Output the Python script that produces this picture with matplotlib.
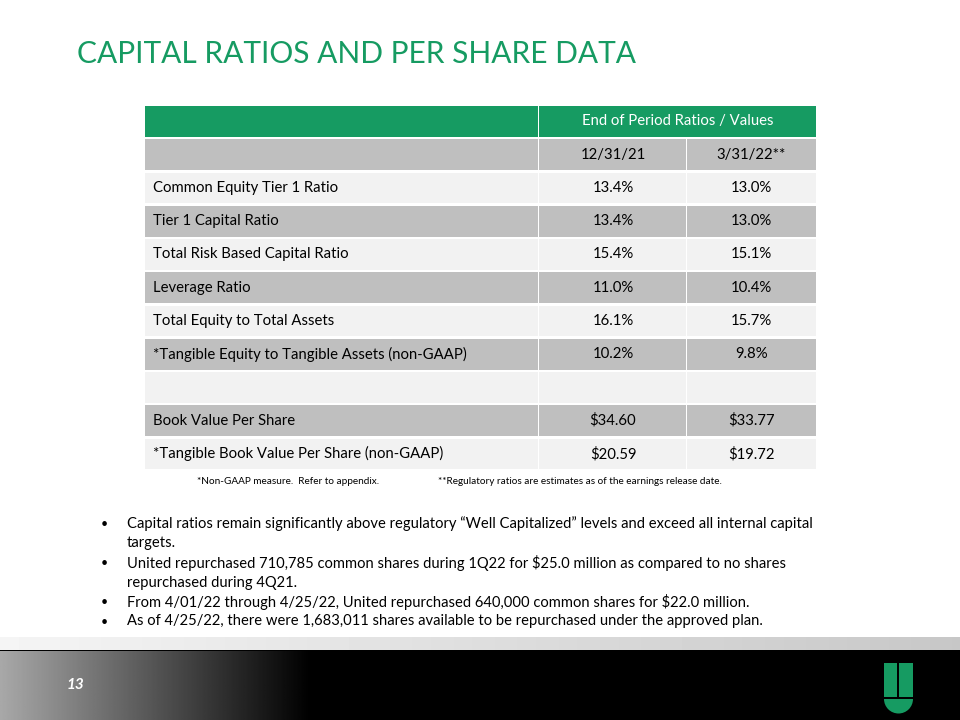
import matplotlib
matplotlib.use("Agg")
import matplotlib.pyplot as plt
from matplotlib.patches import Rectangle, Wedge
import numpy as np

plt.rcParams['font.family'] = ['Lato', 'DejaVu Sans']

title = "CAPITAL RATIOS AND PER SHARE DATA"
header = "End of Period Ratios / Values"
periods = ["12/31/21", "3/31/22**"]
row_labels = [
    "Common Equity Tier 1 Ratio",
    "Tier 1 Capital Ratio",
    "Total Risk Based Capital Ratio",
    "Leverage Ratio",
    "Total Equity to Total Assets",
    "*Tangible Equity to Tangible Assets (non-GAAP)",
    "",
    "Book Value Per Share",
    "*Tangible Book Value Per Share (non-GAAP)",
]
col_1221 = ["13.4%", "13.4%", "15.4%", "11.0%", "16.1%", "10.2%", "", "$34.60", "$20.59"]
col_0322 = ["13.0%", "13.0%", "15.1%", "10.4%", "15.7%", "9.8%", "", "$33.77", "$19.72"]
footnotes = ["*Non-GAAP measure.  Refer to appendix.",
             "**Regulatory ratios are estimates as of the earnings release date."]
bullets = [
    ["Capital ratios remain significantly above regulatory \u201cWell Capitalized\u201d levels and exceed all internal capital",
     "targets."],
    ["United repurchased 710,785 common shares during 1Q22 for $25.0 million as compared to no shares",
     "repurchased during 4Q21."],
    ["From 4/01/22 through 4/25/22, United repurchased 640,000 common shares for $22.0 million."],
    ["As of 4/25/22, there were 1,683,011 shares available to be repurchased under the approved plan."],
]
page = "13"

GREEN = "#169B62"
GRAY = "#BFBFBF"
LIGHT = "#F2F2F2"

fig = plt.figure(figsize=(9.6, 7.2), dpi=100)
ax = fig.add_axes([0, 0, 1, 1])
ax.set_xlim(0, 960)
ax.set_ylim(720, 0)
ax.axis('off')

# title
ax.text(77, 54, title, color=GREEN, fontsize=21.5, va='center', ha='left')

# table geometry
x0, x1, x2, x3 = 145, 539, 687, 816
top, rh, gap = 106, 33.25, 2.5
fs = 10.7

def cell(xa, xb, row, color):
    y = top + row * rh
    ax.add_patch(Rectangle((xa, y), xb - xa, rh - gap, facecolor=color, edgecolor='none'))
    return y + (rh - gap) / 2

# header row
yc = cell(x0, x1 - 1.5, 0, GREEN)
cell(x1, x3, 0, GREEN)
ax.text((x1 + x3) / 2, yc, header, color='white', fontsize=fs, ha='center', va='center')

# period row
yc = cell(x0, x1 - 1.5, 1, GRAY)
cell(x1, x2 - 1.5, 1, GRAY)
cell(x2, x3, 1, GRAY)
ax.text((x1 + x2) / 2, yc, periods[0], fontsize=fs, ha='center', va='center')
ax.text((x2 + x3) / 2, yc, periods[1], fontsize=fs, ha='center', va='center')

for i, lab in enumerate(row_labels):
    color = LIGHT if i % 2 == 0 else GRAY
    r = i + 2
    yc = cell(x0, x1 - 1.5, r, color)
    cell(x1, x2 - 1.5, r, color)
    cell(x2, x3, r, color)
    ax.text(x0 + 8, yc, lab, fontsize=fs, ha='left', va='center')
    ax.text((x1 + x2) / 2, yc, col_1221[i], fontsize=fs, ha='center', va='center')
    ax.text((x2 + x3) / 2, yc, col_0322[i], fontsize=fs, ha='center', va='center')

# footnotes
ax.text(197, 482, footnotes[0], fontsize=7.2, ha='left', va='center')
ax.text(438, 482, footnotes[1], fontsize=7.2, ha='left', va='center')

# bullets
y = 524
for b in bullets:
    ax.text(101, y, "\u2022", fontsize=9, ha='left', va='center')
    for line in b:
        ax.text(127, y, line, fontsize=10.65, ha='left', va='center')
        y += 19.5

# bottom band: light gradient strip then black with grey fade on the left
strip = np.linspace(0.96, 0.78, 256)[None, :]
ax.imshow(strip, extent=(0, 960, 650, 637), cmap='gray', vmin=0, vmax=1, aspect='auto', zorder=1)
ax.add_patch(Rectangle((0, 650), 960, 70, facecolor='black', edgecolor='none', zorder=1))
fade = np.clip(np.linspace(0.66, -0.02, 256), 0, 1)
fade = np.concatenate([fade, np.zeros(256)])[None, :]
ax.imshow(fade, extent=(0, 640, 720, 651), cmap='gray', vmin=0, vmax=1, aspect='auto', zorder=2)
ax.text(75, 685, page, color='white', fontsize=11, fontweight='bold', style='italic',
        ha='center', va='center', zorder=3)

# logo
ax.add_patch(Rectangle((884, 663), 13, 34, facecolor=GREEN, edgecolor='none', zorder=3))
ax.add_patch(Rectangle((899, 663), 14, 34, facecolor=GREEN, edgecolor='none', zorder=3))
ax.add_patch(Wedge((898.5, 699), 14.5, 0, 180, facecolor=GREEN, edgecolor='none', zorder=3))

ax.set_xlim(0, 960)
ax.set_ylim(720, 0)
fig.savefig("out.png", dpi=100)
